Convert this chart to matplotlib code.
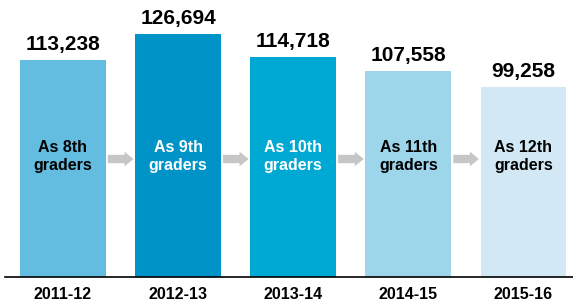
import numpy as np
import matplotlib
matplotlib.use("Agg")
import matplotlib.pyplot as plt

plt.rcParams['font.family'] = ['Liberation Sans', 'DejaVu Sans']

years = ['2011-12', '2012-13', '2013-14', '2014-15', '2015-16']
students = [113238, 126694, 114718, 107558, 99258]
grades = ['As 8th\ngraders', 'As 9th\ngraders', 'As 10th\ngraders',
          'As 11th\ngraders', 'As 12th\ngraders']
colors = ['#62bde0', '#0093c8', '#00a9d4', '#9dd5ea', '#d2e9f5']
text_colors = ['black', 'white', 'white', 'black', 'black']

fig = plt.figure(figsize=(5.73, 3.03), dpi=100)
ax = fig.add_axes([5 / 573, 26 / 303, 568 / 573, 277 / 303])

x = np.arange(len(years))
width = 0.746
ax.bar(x, students, width=width, color=colors, zorder=2)

ax.set_xlim(-0.503, 4.43)
ax.set_ylim(0, 144400)

# value labels above bars
for xi, v in zip(x, students):
    ax.annotate(f'{v:,}', (xi, v), xytext=(0, 4), textcoords='offset points',
                ha='center', va='bottom', fontsize=15, fontweight='bold')

# grade labels inside bars (same height in every bar)
tr = ax.get_xaxis_transform()
for xi, g, tc in zip(x, grades, text_colors):
    ax.text(xi, 0.435, g, transform=tr, ha='center', va='center',
            fontsize=11.5, fontweight='bold', color=tc, linespacing=1.3)

# gray arrows between bars
for xi in x[:-1]:
    ax.annotate('', xy=(xi + 0.613, 0.426), xytext=(xi + 0.39, 0.426),
                xycoords=tr, textcoords=tr,
                arrowprops=dict(arrowstyle='simple,head_length=6.5,head_width=10.5,tail_width=6',
                                mutation_scale=1, color='#c6c6c6', lw=0,
                                shrinkA=0, shrinkB=0))

ax.set_xticks(x)
ax.set_xticklabels(years, fontsize=11.5, fontweight='bold')
ax.tick_params(axis='x', length=0, pad=7)
ax.set_yticks([])
for s in ['top', 'right', 'left']:
    ax.spines[s].set_visible(False)
ax.spines['bottom'].set_linewidth(1.2)
ax.spines['bottom'].set_zorder(3)

fig.savefig('out.png', dpi=100)
